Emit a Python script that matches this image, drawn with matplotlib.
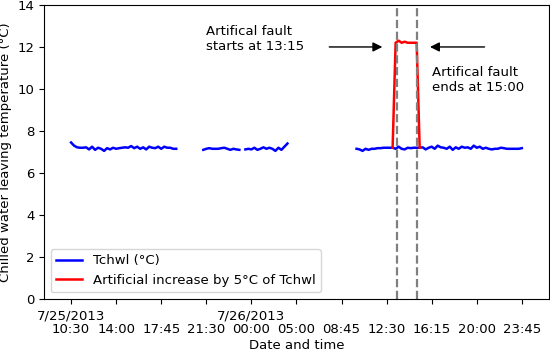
import numpy as np
import matplotlib.pyplot as plt

plt.rcParams['font.size'] = 9.5

# Tchwl samples (15 min steps), split in segments where data exists
seg_starts = [0, 44, 58, 95]
seg_values = [
    [7.45, 7.3, 7.22, 7.2, 7.2, 7.22, 7.12, 7.25, 7.1, 7.2, 7.15, 7.05, 7.18, 7.12,
     7.2, 7.15, 7.18, 7.2, 7.22, 7.2, 7.28, 7.18, 7.25, 7.15, 7.22, 7.12, 7.25, 7.2,
     7.18, 7.25, 7.15, 7.25, 7.2, 7.2, 7.15, 7.15],
    [7.1, 7.15, 7.18, 7.15, 7.15, 7.15, 7.18, 7.2, 7.15, 7.1, 7.15, 7.12, 7.1],
    [7.12, 7.15, 7.12, 7.2, 7.1, 7.15, 7.22, 7.15, 7.2, 7.15, 7.05, 7.2, 7.1, 7.25, 7.4],
    [7.15, 7.12, 7.05, 7.15, 7.1, 7.15, 7.15, 7.18, 7.18, 7.2, 7.2, 7.2, 7.2, 7.15,
     7.25, 7.15, 7.12, 7.2, 7.18, 7.2, 7.2, 7.2, 7.22, 7.12, 7.2, 7.25, 7.15, 7.3,
     7.22, 7.2, 7.15, 7.25, 7.1, 7.22, 7.15, 7.25, 7.2, 7.22, 7.15, 7.3, 7.2, 7.25,
     7.15, 7.2, 7.15, 7.12, 7.15, 7.15, 7.2, 7.18, 7.15, 7.15, 7.15, 7.15, 7.15, 7.18],
]

# artificial fault
fault_start = 107
fault_values = [7.2, 12.2, 12.3, 12.2, 12.25, 12.2, 12.2, 12.2, 12.2, 7.2]
fault_marks = [108.3, 115]

tick_pos = list(range(0, 151, 15))
tick_labels = ["10:30", "14:00", "17:45", "21:30", "00:00", "05:00",
               "08:45", "12:30", "16:15", "20:00", "23:45"]
date_pos = [0, 60]
date_labels = ["7/25/2013", "7/26/2013"]

# build series with NaN in the gaps
n = 151
tchwl = np.full(n, np.nan)
for s, vals in zip(seg_starts, seg_values):
    tchwl[s:s + len(vals)] = vals
idx = np.arange(n)

fig = plt.figure(figsize=(5.5, 3.55), dpi=100)
ax = fig.add_axes([0.08, 0.158, 0.918, 0.828])

ax.plot(idx, tchwl, color='blue', lw=1.8, label='Tchwl (°C)')
fx = np.arange(fault_start, fault_start + len(fault_values))
ax.plot(fx, fault_values, color='red', lw=1.8, label='Artificial increase by 5°C of Tchwl')
for m in fault_marks:
    ax.axvline(m, color='gray', ls='--', lw=1.6)

ax.annotate('', xy=(104.5, 12.0), xytext=(85, 12.0),
            arrowprops=dict(arrowstyle='-|>', color='black', lw=1, mutation_scale=14))
ax.annotate('', xy=(118.5, 12.0), xytext=(138.5, 12.0),
            arrowprops=dict(arrowstyle='-|>', color='black', lw=1, mutation_scale=14))
ax.text(45, 12.4, 'Artifical fault\nstarts at 13:15', va='center', ha='left')
ax.text(120, 10.45, 'Artifical fault\nends at 15:00', va='center', ha='left')

ax.set_xlim(-9, 159)
ax.set_ylim(0, 14)
ax.set_yticks(range(0, 15, 2))
ax.set_xticks(tick_pos)
ax.set_xticklabels(tick_labels)
ax.tick_params(axis='x', pad=14)
for p, d in zip(date_pos, date_labels):
    ax.text(p, -0.035, d, transform=ax.get_xaxis_transform(), ha='center', va='top')
ax.set_xlabel('Date and time', labelpad=2)
ax.set_ylabel('Chilled water leaving temperature (°C)')
ax.legend(loc='lower left')

fig.savefig('out.png')
